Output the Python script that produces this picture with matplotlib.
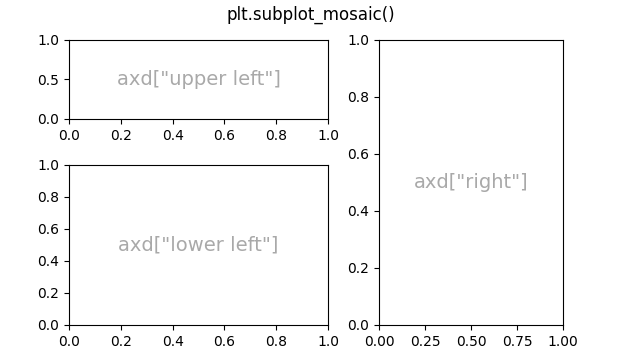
import matplotlib
matplotlib.use("Agg")
import matplotlib.pyplot as plt

mosaic = [["upper left", "right"],
          ["lower left", "right"]]
width_ratios = [259, 184]
height_ratios = [79, 160]
title = "plt.subplot_mosaic()"

fig, axd = plt.subplot_mosaic(
    mosaic,
    figsize=(6.22, 3.58),
    dpi=100,
    gridspec_kw=dict(width_ratios=width_ratios, height_ratios=height_ratios,
                     left=0.1109, right=0.9051, top=0.8883, bottom=0.0922,
                     wspace=0.230, hspace=0.385),
)

for k, ax in axd.items():
    ax.text(0.5, 0.5, f'axd["{k}"]', transform=ax.transAxes,
            ha="center", va="center", fontsize=14, color="darkgrey")

fig.suptitle(title, y=0.985)

fig.savefig("out.png")
